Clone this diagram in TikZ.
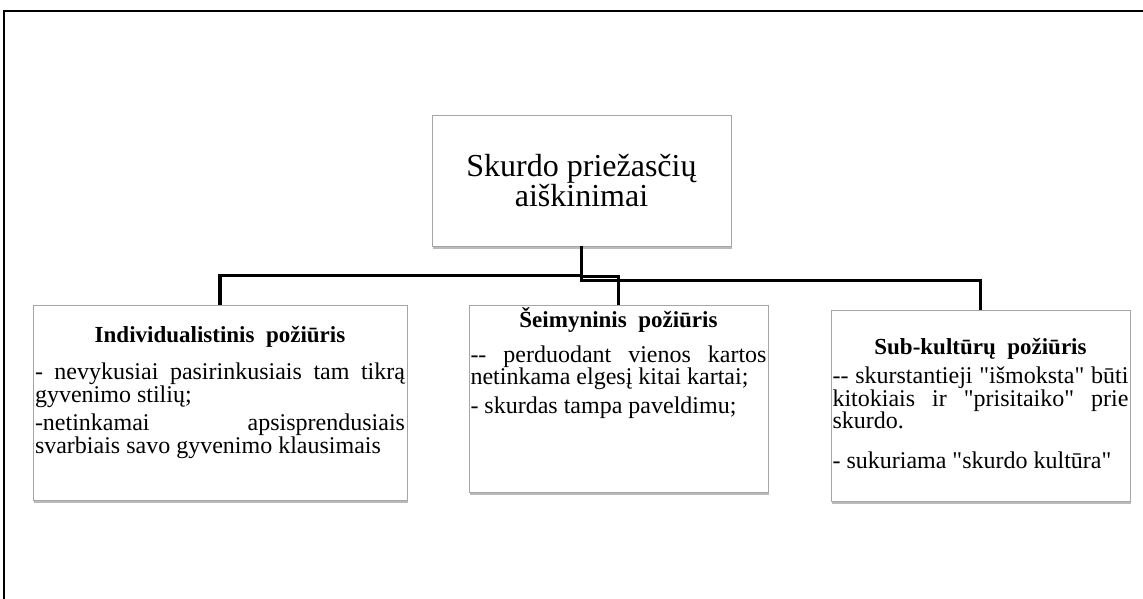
\documentclass[tikz,border=0pt]{standalone}
\usepackage{fontspec}
\setmainfont{Liberation Serif}[Ligatures=TeXOff]
\usetikzlibrary{shadows}
\setlength{\parindent}{0pt}
\newcommand{\boxhead}[1]{{\centering\fontsize{23}{20}\selectfont\bfseries #1\par}}

\begin{document}
\begin{tikzpicture}[x=1pt, y=-1pt,
  box/.style={rectangle, draw=black!35, line width=0.8pt, fill=white,
    drop shadow={shadow xshift=1pt, shadow yshift=-2.5pt, fill=black!45, opacity=0.6}},
  txt/.style={anchor=north, inner sep=1.5pt, align=justify,
    font=\fontsize{24}{20}\selectfont\setlength{\parskip}{6pt}},
  conn/.style={line width=3.5pt}]
\useasboundingbox (0,0) rectangle (1143,599);
% frame
\draw[line width=2pt] (1143,11) -- (4,11) -- (4,599);
% boxes
\node[box, minimum width=299pt, minimum height=131pt, align=center, font=\fontsize{32}{26}\selectfont] at (581.5, 180.5) (root) {Skurdo priežasčių\\aiškinimai};
\node[box, minimum width=374pt, minimum height=195pt] at (220.0, 402.5) (indiv) {};
\node[box, minimum width=299pt, minimum height=187pt] at (618.5, 398.5) (seim) {};
\node[box, minimum width=299pt, minimum height=191pt] at (980.5, 405.5) (subk) {};
% connectors
\draw[conn] (root.south) -- ++(0,29) -| (indiv.north);
\draw[conn] (root.south) -- ++(0,30) -| (seim.north);
\draw[conn] (root.south) -- ++(0,34) -| (subk.north);
% texts
\node[txt, text width=370pt] at (220.0, 324.8) (indivtxt) {\boxhead{Individualistinis~~požiūris}\vspace{8pt}
- nevykusiai pasirinkusiais tam tikrą\linebreak gyvenimo stilių;\par
-netinkamai apsisprendusiais\linebreak svarbiais savo gyvenimo klausimais};
\node[txt, text width=296pt] at (618.5, 305.8) (seimtxt) {\boxhead{Šeimyninis~~požiūris}\vspace{6pt}
-{}- perduodant vienos kartos\linebreak netinkama elgesį kitai kartai;\par
- skurdas tampa paveldimu;};
\node[txt, text width=296pt] at (980.5, 336.8) (subktxt) {\boxhead{Sub-kultūrų~~požiūris}
-{}- skurstantieji "išmoksta" būti\linebreak kitokiais ir "prisitaiko" prie\linebreak skurdo.\par\vspace{14pt}
- sukuriama "skurdo kultūra"};
\end{tikzpicture}
\end{document}
